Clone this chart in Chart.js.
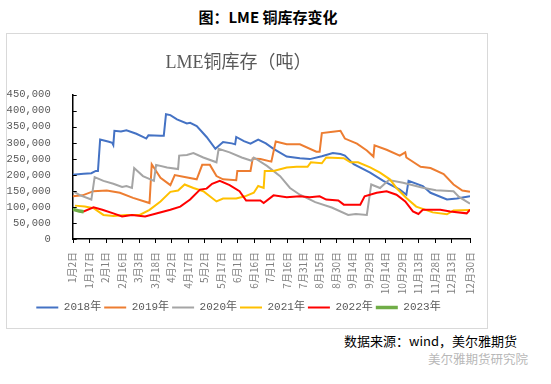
<!DOCTYPE html>
<html>
<head>
<meta charset="utf-8">
<script src="https://cdn.jsdelivr.net/npm/chart.js@4/dist/chart.umd.min.js"></script>
<style>
  html, body { margin: 0; padding: 0; background: #ffffff; }
  body { width: 551px; height: 384px; position: relative; overflow: hidden; font-family: "Noto Sans CJK SC", sans-serif; }
  #title { position: absolute; left: 0; width: 536px; top: 6px; text-align: center; font-size: 15px; font-weight: bold; color: #000; }
  #box { position: absolute; left: 6px; top: 33px; width: 480px; height: 294px; border: 1px solid #d9d9d9; }
  #src { position: absolute; left: 344px; top: 331px; font-size: 13px; color: #000; white-space: nowrap; }
  #wm { position: absolute; left: 428px; top: 349px; font-size: 12.5px; color: #b8b8b8; white-space: nowrap; }
</style>
</head>
<body>
<div id="title">图：LME 铜库存变化</div>
<div id="box"><canvas id="c" width="480" height="294"></canvas></div>
<div id="src">数据来源：wind，美尔雅期货</div>
<div id="wm">美尔雅期货研究院</div>
<script>
// x = day offset from 1月2日, y = tonnes
const tickDays = [0,15,30,45,60,75,90,105,120,135,150,165,180,195,210,225,240,255,270,285,300,315,330,345,362];
const tickLabels = ["1月2日","1月17日","2月1日","2月16日","3月3日","3月18日","4月2日","4月17日","5月2日","5月17日","6月1日","6月16日","7月1日","7月16日","7月31日","8月15日","8月30日","9月14日","9月29日","10月14日","10月29日","11月13日","11月28日","12月13日","12月30日"];
const seriesNames = ["2018年","2019年","2020年","2021年","2022年","2023年"];
const seriesColors = ["#4472C4","#ED7D31","#A5A5A5","#FFC000","#FF0000","#70AD47"];

const stock2018 = [[0,200000],[10,203000],[17,205000],[21,212000],[23,212000],[25,310000],[33,303000],[36,300000],[37,293000],[38,337000],[44,335000],[49,339000],[58,328000],[64,318000],[67,313000],[69,323000],[80,322000],[83,322000],[85,389000],[89,386000],[95,373000],[104,360000],[107,362000],[113,352000],[122,318000],[130,281000],[137,302000],[145,298000],[148,295000],[149,318000],[156,305000],[162,297000],[169,310000],[176,298000],[183,281000],[195,257000],[207,252000],[216,249000],[227,258000],[237,268000],[244,265000],[248,260000],[256,233000],[271,207000],[283,181000],[298,154000],[304,138000],[306,181000],[319,165000],[326,144000],[341,123000],[350,126000],[362,133000]];
const stock2019 = [[0,133000],[9,136000],[19,149000],[31,151000],[43,144000],[55,128000],[70,112000],[72,233000],[80,191000],[89,168000],[93,199000],[102,193000],[113,186000],[118,231000],[125,231000],[131,196000],[137,186000],[149,183000],[150,212000],[162,212000],[164,251000],[171,249000],[181,241000],[185,304000],[195,295000],[207,295000],[222,272000],[225,272000],[227,330000],[237,334000],[244,337000],[248,313000],[259,297000],[268,276000],[274,257000],[275,292000],[286,278000],[298,260000],[303,270000],[304,254000],[317,225000],[326,221000],[338,202000],[347,170000],[355,151000],[362,147000]];
const stock2020 = [[0,149000],[7,136000],[17,123000],[20,193000],[28,181000],[37,172000],[45,162000],[49,165000],[54,159000],[56,221000],[64,196000],[74,181000],[76,231000],[86,223000],[96,218000],[97,260000],[104,262000],[110,268000],[119,254000],[131,239000],[133,281000],[143,270000],[154,254000],[163,244000],[165,254000],[177,228000],[189,196000],[198,159000],[207,138000],[221,115000],[236,98000],[251,75000],[258,78000],[268,75000],[272,170000],[280,159000],[288,184000],[301,175000],[319,160000],[331,152000],[347,149000],[352,131000],[362,110000]];
const stock2021 = [[2,104000],[11,101000],[19,96000],[28,75000],[37,72000],[49,75000],[61,75000],[70,91000],[80,117000],[89,147000],[96,151000],[102,170000],[110,159000],[119,149000],[131,117000],[137,126000],[149,126000],[157,133000],[165,144000],[169,165000],[174,159000],[175,212000],[183,212000],[195,223000],[204,225000],[214,225000],[217,239000],[227,236000],[231,254000],[247,252000],[253,239000],[260,239000],[271,223000],[280,207000],[289,186000],[295,159000],[304,128000],[313,101000],[319,94000],[328,83000],[341,77000],[347,89000],[362,90000]];
const stock2022 = [[2,90000],[10,86000],[19,99000],[27,91000],[37,80000],[45,70000],[54,75000],[66,70000],[77,80000],[89,91000],[98,101000],[107,123000],[116,154000],[122,157000],[127,172000],[134,181000],[143,168000],[152,149000],[158,120000],[171,120000],[174,112000],[183,136000],[195,130000],[207,133000],[216,130000],[225,133000],[231,123000],[242,120000],[247,107000],[262,107000],[266,133000],[277,144000],[286,149000],[295,138000],[303,117000],[310,86000],[315,78000],[319,91000],[335,91000],[344,86000],[359,80000],[362,91000]];
const stock2023 = [[0,93000],[3,90000],[6,87000],[10,85000]];

const allSeries = [stock2018, stock2019, stock2020, stock2021, stock2022, stock2023];

const tickMarks = {
  id: 'tickMarks',
  afterDraw(chart) {
    const ctx = chart.ctx, xs = chart.scales.x, ys = chart.scales.y;
    ctx.save();
    ctx.strokeStyle = '#000'; ctx.lineWidth = 1;
    ctx.beginPath();
    xs.ticks.forEach(t => { const px = Math.round(xs.getPixelForValue(t.value)) + 0.5; ctx.moveTo(px, ys.bottom); ctx.lineTo(px, ys.bottom + 4); });
    ys.ticks.forEach(t => { const py = Math.round(ys.getPixelForValue(t.value)) + 0.5; ctx.moveTo(xs.left, py); ctx.lineTo(xs.left + 4, py); });
    ctx.stroke();
    ctx.restore();
  }
};

new Chart(document.getElementById('c'), {
  type: 'line',
  data: {
    datasets: allSeries.map((s, i) => ({
      label: seriesNames[i],
      data: s,
      borderColor: seriesColors[i],
      backgroundColor: seriesColors[i],
      borderWidth: i === 5 ? 3.5 : 2,
      pointRadius: 0,
      tension: 0,
      order: 5 - i
    }))
  },
  options: {
    responsive: false,
    animation: false,
    layout: { padding: { left: 0, right: 17, top: 0, bottom: 5 } },
    plugins: {
      title: { display: true, text: 'LME铜库存（吨）', color: '#595959', font: { family: '"Liberation Serif","Noto Sans CJK SC"', size: 18, weight: 'normal' }, padding: { top: 18, bottom: 21 } },
      legend: {
        position: 'bottom',
        labels: {
          usePointStyle: true, pointStyle: 'line', pointStyleWidth: 22,
          color: '#595959', padding: 3,
          font: { family: '"Liberation Mono","Noto Sans CJK SC"', size: 11 },
          sort: (a, b) => a.datasetIndex - b.datasetIndex
        }
      },
      tooltip: { enabled: false }
    },
    scales: {
      x: {
        type: 'linear', min: 0, max: 362,
        afterBuildTicks: (scale) => { scale.ticks = tickDays.map(v => ({ value: v })); },
        afterFit: (scale) => { scale.height = 60; },
        grid: { display: false },
        border: { display: true, color: '#000', width: 1.5 },
        ticks: {
          autoSkip: false, minRotation: 90, maxRotation: 90, padding: 5,
          color: '#7f7f7f', font: { family: '"Noto Sans CJK SC"', size: 10 },
          callback: (v) => { const i = tickDays.indexOf(v); return i >= 0 ? tickLabels[i] : ''; }
        }
      },
      y: {
        min: 0, max: 450000,
        afterFit: (scale) => { scale.width = 65.7; },
        grid: { display: false },
        border: { display: true, color: '#000', width: 1.5 },
        ticks: {
          stepSize: 50000, padding: 14, color: '#595959',
          font: { family: '"Liberation Mono"', size: 10.5 },
          callback: (v) => v.toLocaleString('en-US')
        }
      }
    }
  },
  plugins: [tickMarks]
});
</script>
</body>
</html>
